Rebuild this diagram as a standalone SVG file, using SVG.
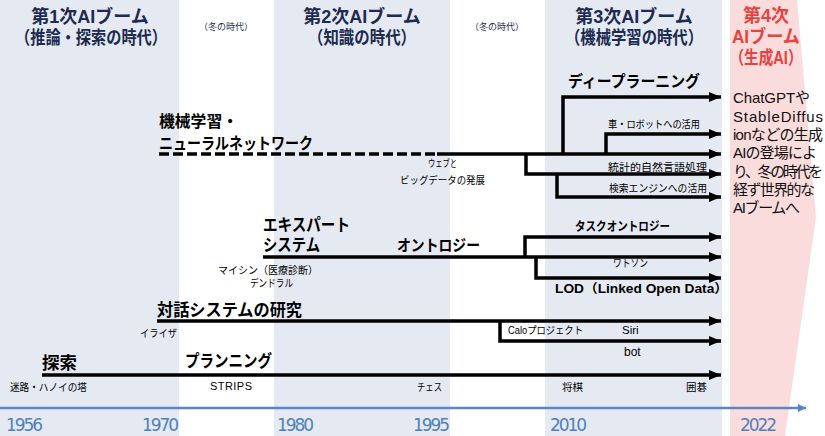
<svg xmlns="http://www.w3.org/2000/svg" width="825" height="436" viewBox="0 0 825 436">
<defs>
<style>
text{font-family:"Liberation Sans","Noto Sans CJK JP",sans-serif;fill:#000}
.hd{font-size:18px;font-weight:700;fill:#1c2b4f;text-anchor:middle}
.red{font-size:18px;font-weight:700;fill:#e8423f;text-anchor:middle}
.win{font-size:9px;fill:#1c2b4f;text-anchor:middle}
.big{font-size:16px;font-weight:700}
.mid{font-size:12.5px;font-weight:700}
.sm{font-size:10.5px}
.yr{font-size:17px;fill:#4f81bd;font-family:"DejaVu Sans",sans-serif}
.pk{font-size:15px;fill:#111}
.ln{fill:none;stroke:#000;stroke-width:3.5;stroke-linejoin:miter}
.ar{marker-end:url(#ah)}
</style>
<marker id="ah" viewBox="0 0 12 10" refX="12" refY="5" markerWidth="12" markerHeight="10" markerUnits="userSpaceOnUse" orient="auto">
<path d="M0,0 L12,5 L0,10 Z" fill="#000"/>
</marker>
<marker id="ax" viewBox="0 0 8 8" refX="8" refY="4" markerWidth="9" markerHeight="8" markerUnits="userSpaceOnUse" orient="auto">
<path d="M0,0 L8,4 L0,8 Z" fill="#5a86c5"/>
</marker>
</defs>
<g id="background">
<rect x="0" y="0" width="825" height="436" fill="#fff"/>
<rect x="0" y="0" width="179" height="436" fill="#e5e9f2"/>
<rect x="274" y="0" width="176" height="436" fill="#e5e9f2"/>
<rect x="545" y="0" width="177" height="436" fill="#e5e9f2"/>
<polygon points="730,0 797,0 816,217 785,436 730,436" fill="#fadcdc"/>
</g>
<g id="headers">
<text class="hd"><tspan x="90" y="23">第1次AIブーム</tspan><tspan x="91" y="44" textLength="152" lengthAdjust="spacingAndGlyphs">（推論・探索の時代）</tspan></text>
<text class="win" x="226" y="30">（冬の時代）</text>
<text class="hd"><tspan x="362" y="23">第2次AIブーム</tspan><tspan x="362" y="44" textLength="108" lengthAdjust="spacingAndGlyphs">（知識の時代）</tspan></text>
<text class="win" x="497" y="30">（冬の時代）</text>
<text class="hd"><tspan x="634" y="23">第3次AIブーム</tspan><tspan x="634" y="44" textLength="138" lengthAdjust="spacingAndGlyphs">（機械学習の時代）</tspan></text>
<text class="red"><tspan x="766" y="22">第4次</tspan><tspan x="766" y="43" textLength="68" lengthAdjust="spacingAndGlyphs">AIブーム</tspan><tspan x="766" y="64" textLength="73" lengthAdjust="spacingAndGlyphs">（生成AI）</tspan></text>
</g>
<g id="gen-ai-note">
<text class="pk"><tspan x="733" y="103" textLength="77">ChatGPTや</tspan><tspan x="733" y="122" textLength="90">StableDiffus</tspan><tspan x="733" y="140" textLength="90">ionなどの生成</tspan><tspan x="733" y="158" textLength="84">AIの登場によ</tspan><tspan x="733" y="177" textLength="90">り、冬の時代を</tspan><tspan x="733" y="195" textLength="82">経ず世界的な</tspan><tspan x="733" y="213" textLength="67">AIブームへ</tspan></text>
</g>
<g id="connectors">
<path class="ln" d="M159,154 H437" stroke-dasharray="10,4"/>
<path class="ln ar" d="M437,154 H721"/>
<path class="ln ar" d="M563,154 V97 H721"/>
<path class="ln ar" d="M606,154 V134 H721"/>
<path class="ln ar" d="M526,154 V174 H721"/>
<path class="ln ar" d="M557,174 V197 H721"/>
<path class="ln ar" d="M263,257 H721"/>
<path class="ln ar" d="M525,257 V237 H721"/>
<path class="ln ar" d="M536,257 V278 H721"/>
<path class="ln ar" d="M157,321 H721"/>
<path class="ln ar" d="M500,321 V341 H721"/>
<path class="ln ar" d="M42,375 H721"/>
<path d="M0,408 H806" fill="none" stroke="#5a86c5" stroke-width="2.5" marker-end="url(#ax)"/>
</g>
<g id="node-ml">
<text class="big"><tspan x="159" y="127" textLength="79" lengthAdjust="spacingAndGlyphs">機械学習・</tspan><tspan x="159" y="149" textLength="154" lengthAdjust="spacingAndGlyphs">ニューラルネットワーク</tspan></text>
<text class="sm" style="font-size:10px"><tspan x="428" y="167" textLength="29" lengthAdjust="spacingAndGlyphs">ウェブと</tspan><tspan x="400" y="184" textLength="85" lengthAdjust="spacingAndGlyphs">ビッグデータの発展</tspan></text>
</g>
<g id="node-dl">
<text class="big" x="568" y="87" textLength="132" lengthAdjust="spacingAndGlyphs">ディープラーニング</text>
<text class="sm" x="608" y="128" textLength="92" lengthAdjust="spacingAndGlyphs">車・ロボットへの活用</text>
<text class="sm" x="707" y="171" text-anchor="end" textLength="99" lengthAdjust="spacingAndGlyphs">統計的自然言語処理</text>
<text class="sm" x="707" y="192" text-anchor="end" textLength="98" lengthAdjust="spacingAndGlyphs">検索エンジンへの活用</text>
</g>
<g id="node-expert">
<text class="big" style="font-size:17px"><tspan x="263" y="231" textLength="87" lengthAdjust="spacingAndGlyphs">エキスパート</tspan><tspan x="263" y="251" textLength="57" lengthAdjust="spacingAndGlyphs">システム</tspan></text>
<text class="sm"><tspan x="218" y="274" textLength="100" lengthAdjust="spacingAndGlyphs">マイシン（医療診断）</tspan><tspan x="250" y="287" textLength="43" lengthAdjust="spacingAndGlyphs">デンドラル</tspan></text>
</g>
<g id="node-ontology">
<text class="big" x="397" y="251" textLength="83" lengthAdjust="spacingAndGlyphs">オントロジー</text>
<text class="mid" x="575" y="231" textLength="95" lengthAdjust="spacingAndGlyphs">タスクオントロジー</text>
<text class="sm" x="613" y="267" textLength="35" lengthAdjust="spacingAndGlyphs">ワトソン</text>
<text class="mid" x="555" y="293" textLength="173" lengthAdjust="spacingAndGlyphs">LOD（Linked Open Data）</text>
</g>
<g id="node-dialog">
<text class="big" style="font-size:17px" x="157" y="316" textLength="145" lengthAdjust="spacingAndGlyphs">対話システムの研究</text>
<text class="sm" x="140" y="337" textLength="37" lengthAdjust="spacingAndGlyphs">イライザ</text>
<text class="sm" x="508" y="334" textLength="75" lengthAdjust="spacingAndGlyphs">Caloプロジェクト</text>
<text class="sm" x="622" y="334" style="font-size:11.5px">Siri</text>
<text class="sm" x="624" y="356" style="font-size:12px">bot</text>
</g>
<g id="node-search">
<text class="big" style="font-size:17px" x="42" y="369" textLength="35" lengthAdjust="spacingAndGlyphs">探索</text>
<text class="sm" x="10" y="391" textLength="77" lengthAdjust="spacingAndGlyphs">迷路・ハノイの塔</text>
<text class="big" style="font-size:17px" x="185" y="367" textLength="87" lengthAdjust="spacingAndGlyphs">プランニング</text>
<text class="sm" x="210" y="390" style="font-size:11px" textLength="42">STRIPS</text>
<text class="sm" x="417" y="391" textLength="25" lengthAdjust="spacingAndGlyphs">チェス</text>
<text class="sm" x="562" y="391">将棋</text>
<text class="sm" x="686" y="391">囲碁</text>
</g>
<g id="years">
<text class="yr" x="6" y="431" textLength="37">1956</text>
<text class="yr" x="142" y="431" textLength="37">1970</text>
<text class="yr" x="277" y="431" textLength="37">1980</text>
<text class="yr" x="413" y="431" textLength="37">1995</text>
<text class="yr" x="550" y="431" textLength="37">2010</text>
<text class="yr" x="740" y="431" textLength="37">2022</text>
</g>
</svg>
